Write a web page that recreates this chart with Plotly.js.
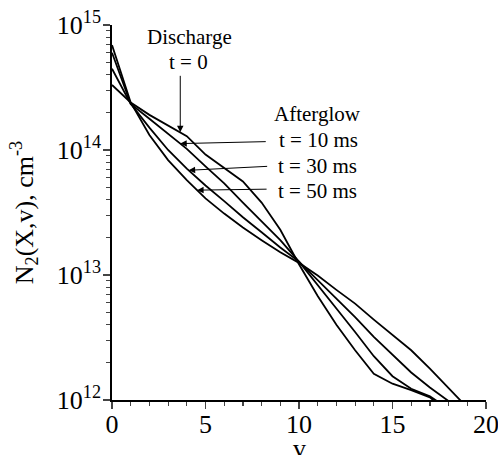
<!DOCTYPE html>
<html>
<head>
<meta charset="utf-8">
<script src="https://cdn.plot.ly/plotly-3.0.1.min.js"></script>
<style>html,body{margin:0;padding:0;background:#fff;}#chart{width:498px;height:455px;}</style>
</head>
<body>
<div id="chart"></div>
<script>
// vibrational level v
const vLevels = [0,1,2,3,4,5,6,7,8,9,10,11,12,13,14,15,16,17,18,19];
// N2(X,v) populations, cm^-3
const discharge_t0 = [3.31e14,2.40e14,1.91e14,1.58e14,1.29e14,9.2e13,7.2e13,5.6e13,3.8e13,2.3e13,1.22e13,6.8e12,4.0e12,2.5e12,1.62e12,1.35e12,1.20e12,1.05e12,7.9e11];
const afterglow_t10 = [4.47e14,2.34e14,1.78e14,1.35e14,1.02e14,7.4e13,5.4e13,3.8e13,2.7e13,1.9e13,1.28e13,8.4e12,5.4e12,3.5e12,2.24e12,1.55e12,1.23e12,1.07e12,8.5e11];
const afterglow_t30 = [6.0e14,2.34e14,1.51e14,1.0e14,7.1e13,5.2e13,3.9e13,2.9e13,2.2e13,1.66e13,1.28e13,9.1e12,6.5e12,4.6e12,3.2e12,2.3e12,1.66e12,1.26e12,9.8e11];
const afterglow_t50 = [6.9e14,2.4e14,1.32e14,8.3e13,5.75e13,4.1e13,3.1e13,2.4e13,1.9e13,1.52e13,1.25e13,9.9e12,7.6e12,5.9e12,4.4e12,3.3e12,2.5e12,1.78e12,1.23e12,8.7e11];
// axis ticks
const xTickVals = [0,5,10,15,20];
const yTickVals = [1e12,1e13,1e14,1e15];
const yTickText = ['10<sup>12</sup>','10<sup>13</sup>','10<sup>14</sup>','10<sup>15</sup>'];
// labels
const xTitle = 'v';
const yTitle = 'N<sub>2</sub>(X,v), cm<sup>-3</sup>';
const labelDischarge = 'Discharge';
const labelT0 = 't = 0';
const labelAfterglow = 'Afterglow';
const labelTimes = ['t = 10 ms','t = 30 ms','t = 50 ms'];

const yMinor = [];
for (let d = 12; d < 15; d++) for (let m = 2; m <= 9; m++) yMinor.push(m * Math.pow(10, d));

function logInterp(series, v) {
  const i = Math.floor(v), f = v - i;
  const a = Math.log10(series[i]), b = Math.log10(series[i + 1]);
  return a + (b - a) * f;
}

const lineStyle = {color: '#000', width: 1.8};
const traces = [discharge_t0, afterglow_t10, afterglow_t30, afterglow_t50].map(s => ({
  x: vLevels.slice(0, s.length), y: s, type: 'scatter', mode: 'lines',
  line: lineStyle, showlegend: false, hoverinfo: 'skip'
}));

const font = {family: 'Liberation Serif, Times New Roman, serif', color: '#000'};
const annFont = Object.assign({}, font, {size: 21});

const arrowBase = {xref: 'x', yref: 'y', axref: 'pixel', ayref: 'pixel', text: '', showarrow: true,
  arrowhead: 2, arrowsize: 1.3, arrowwidth: 1, arrowcolor: '#000'};

const annotations = [
  {xref: 'paper', yref: 'paper', x: 0.5, y: -0.128, text: xTitle, showarrow: false, font: Object.assign({}, font, {size: 26}), xanchor: 'center', yanchor: 'middle'},
  {xref: 'paper', yref: 'paper', x: 0.207, y: 0.968, text: labelDischarge, showarrow: false, font: annFont, xanchor: 'center', yanchor: 'middle'},
  {xref: 'paper', yref: 'paper', x: 0.205, y: 0.900, text: labelT0, showarrow: false, font: annFont, xanchor: 'center', yanchor: 'middle'},
  {xref: 'paper', yref: 'paper', x: 0.428, y: 0.763, text: labelAfterglow, showarrow: false, font: annFont, xanchor: 'left', yanchor: 'middle'},
  {xref: 'paper', yref: 'paper', x: 0.442, y: 0.693, text: labelTimes[0], showarrow: false, font: annFont, xanchor: 'left', yanchor: 'middle'},
  {xref: 'paper', yref: 'paper', x: 0.438, y: 0.624, text: labelTimes[1], showarrow: false, font: annFont, xanchor: 'left', yanchor: 'middle'},
  {xref: 'paper', yref: 'paper', x: 0.438, y: 0.557, text: labelTimes[2], showarrow: false, font: annFont, xanchor: 'left', yanchor: 'middle'},
  Object.assign({}, arrowBase, {x: 3.65, y: logInterp(discharge_t0, 3.65), ax: 0, ay: -58}),
  Object.assign({}, arrowBase, {x: 3.65, y: logInterp(afterglow_t10, 3.65), ax: 87, ay: -2}),
  Object.assign({}, arrowBase, {x: 4.1, y: logInterp(afterglow_t30, 4.1), ax: 80, ay: -4}),
  Object.assign({}, arrowBase, {x: 4.55, y: logInterp(afterglow_t50, 4.55), ax: 71, ay: -1})
];

const layout = {
  width: 498, height: 455,
  margin: {l: 112, r: 12, t: 25, b: 55},
  paper_bgcolor: '#fff', plot_bgcolor: '#fff',
  font: font,
  showlegend: false,
  xaxis: {
    range: [0, 20], tickvals: xTickVals, ticks: 'outside', ticklen: 7, tickwidth: 1.5,
    showline: true, linewidth: 1.8, linecolor: '#000', showgrid: false, zeroline: false,
    tickfont: Object.assign({}, font, {size: 26}),
    ticklabeloverflow: 'allow', ticklabelstandoff: -7,
    minor: {dtick: 1, ticks: 'outside', ticklen: 4, tickwidth: 1.2, showgrid: false},
    automargin: false
  },
  yaxis: {
    type: 'log', range: [12, 15], tickvals: yTickVals, ticktext: yTickText,
    ticks: 'outside', ticklen: 7, tickwidth: 1.5,
    showline: true, linewidth: 1.8, linecolor: '#000', showgrid: false, zeroline: false,
    tickfont: Object.assign({}, font, {size: 26}),
    ticklabelstandoff: -3,
    minor: {tickmode: 'array', tickvals: yMinor, ticks: 'outside', ticklen: 4, tickwidth: 1.2, showgrid: false},
    title: {text: yTitle, font: Object.assign({}, font, {size: 26}), standoff: 16},
    automargin: false
  },
  annotations: annotations
};

Plotly.newPlot('chart', traces, layout, {displayModeBar: false, staticPlot: true});
</script>
</body>
</html>
